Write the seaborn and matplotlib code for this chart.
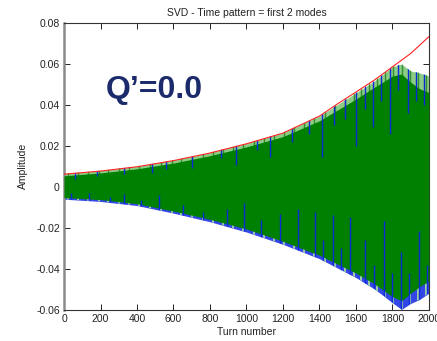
import numpy as np
import matplotlib
matplotlib.use("Agg")
import matplotlib.pyplot as plt
import seaborn as sns
import pandas as pd

# ---- data ----
env_turns = [0, 200, 400, 600, 800, 1000, 1200, 1400, 1500, 1600, 1700, 1800, 1900, 2000]
env_red = [0.0062, 0.0077, 0.0098, 0.0128, 0.0165, 0.0210, 0.0262, 0.0345, 0.0405,
           0.0462, 0.0520, 0.0585, 0.0650, 0.0732]

band_turns = [0, 200, 400, 600, 800, 1000, 1200, 1400, 1600, 1700, 1750, 1800, 1850, 1900, 1950, 2000]
green_upper = [0.0054, 0.0068, 0.0088, 0.0116, 0.0152, 0.0195, 0.0245, 0.0322, 0.0428,
               0.0485, 0.0512, 0.0540, 0.0550, 0.0510, 0.0478, 0.0460]
outer_upper = [0.0063, 0.0079, 0.0100, 0.0130, 0.0167, 0.0212, 0.0263, 0.0345, 0.0458,
               0.0515, 0.0550, 0.0585, 0.0598, 0.0565, 0.0555, 0.0540]
green_lower = [-0.0052, -0.0062, -0.0082, -0.0118, -0.0158, -0.0205, -0.0265, -0.0333,
               -0.0420, -0.0472, -0.0503, -0.0535, -0.0555, -0.0518, -0.0485, -0.0460]
outer_lower = [-0.0060, -0.0071, -0.0091, -0.0128, -0.0170, -0.0220, -0.0280, -0.0350,
               -0.0442, -0.0497, -0.0530, -0.0565, -0.0597, -0.0568, -0.0548, -0.0518]

# blue spikes reaching inward (turn, tip value)
spike_up_turns = [60, 180, 330, 480, 560, 700, 860, 941, 1060, 1130, 1250, 1340, 1414,
                  1480, 1540, 1602, 1650, 1693, 1740, 1789, 1830, 1884, 1930, 1975]
spike_up_tips = [0.0040, 0.0055, 0.0065, 0.0070, 0.0085, 0.0090, 0.0140, 0.0106, 0.0180,
                 0.0146, 0.0220, 0.0260, 0.0146, 0.0300, 0.0330, 0.0200, 0.0380, 0.0290,
                 0.0420, 0.0260, 0.0470, 0.0358, 0.0420, 0.0400]
spike_dn_turns = [40, 139, 250, 329, 420, 522, 650, 760, 895, 986, 1080, 1182, 1281, 1373,
                  1420, 1474, 1520, 1566, 1650, 1700, 1754, 1800, 1845, 1890, 1946, 1990]
spike_dn_tips = [-0.0030, -0.0030, -0.0050, -0.0036, -0.0065, -0.0040, -0.0090, -0.0120,
                 -0.0106, -0.0081, -0.0160, -0.0130, -0.0106, -0.0122, -0.0260, -0.0138,
                 -0.0300, -0.0146, -0.0260, -0.0380, -0.0167, -0.0420, -0.0316, -0.0420,
                 -0.0215, -0.0380]

# fringe stripes along the edges
stripe_turns = [20, 75, 130, 190, 240, 300, 355, 410, 470, 530, 590, 640, 700, 760, 815,
                870, 925, 980, 1040, 1095, 1150, 1205, 1260, 1315, 1370, 1430, 1485, 1540,
                1590, 1630, 1670, 1715, 1760, 1805, 1850, 1895, 1940, 1985]

x_ticks = [0, 200, 400, 600, 800, 1000, 1200, 1400, 1600, 1800, 2000]
y_ticks = [-0.06, -0.04, -0.02, 0, 0.02, 0.04, 0.06, 0.08]
y_ticklabels = ["-0.06", "-0.04", "-0.02", "0", "0.02", "0.04", "0.06", "0.08"]

# ---- style ----
sns.set_style("ticks")
plt.rcParams["font.family"] = ["Liberation Sans", "DejaVu Sans"]

fig = plt.figure(figsize=(4.37, 3.41), dpi=100)
ax = fig.add_axes([0.1465, 0.0909, 0.835, 0.8425])

GREEN = "#008000"
BLUE = "#0a2ad8"
LIGHTGREEN = "#a9d9a3"

# outer fringes
outer_up = ax.fill_between(band_turns, 0, outer_upper, color="#8ccc86", lw=0, zorder=1)
outer_dn = ax.fill_between(band_turns, outer_lower, 0, color="#3346e6", lw=0, zorder=1)

# stripes in the fringes, clipped to the outer envelope
vl = ax.vlines(stripe_turns, 0, 0.1, color="#2f8f2f", lw=1.0, zorder=2)
vl.set_clip_path(outer_up.get_paths()[0], transform=ax.transData)
vl2 = ax.vlines(stripe_turns, -0.1, 0, color=LIGHTGREEN, lw=1.3, zorder=2)
vl2.set_clip_path(outer_dn.get_paths()[0], transform=ax.transData)

# main green body
ax.fill_between(band_turns, green_lower, green_upper, color=GREEN, lw=0, zorder=3)

# blue spikes clipped to the outer envelope
vu = ax.vlines(spike_up_turns, spike_up_tips, 0.1, color=BLUE, lw=1.0, zorder=4)
vu.set_clip_path(outer_up.get_paths()[0], transform=ax.transData)
vd = ax.vlines(spike_dn_turns, -0.1, spike_dn_tips, color=BLUE, lw=1.0, zorder=4)
vd.set_clip_path(outer_dn.get_paths()[0], transform=ax.transData)

# red envelope
df = pd.DataFrame({"turn": env_turns, "amp": env_red})
sns.lineplot(data=df, x="turn", y="amp", color="#ff2020", lw=0.8, ax=ax, zorder=5)

ax.set_xlim(0, 2000)
ax.set_ylim(-0.06, 0.08)
ax.set_xticks(x_ticks)
ax.set_xticklabels([str(t) for t in x_ticks])
ax.set_yticks(y_ticks)
ax.set_yticklabels(y_ticklabels)
ax.tick_params(direction="in", length=4, width=0.7, labelsize=7.5, colors="#222222",
               top=True, right=True, pad=3)
for s in ["top", "right", "bottom"]:
    ax.spines[s].set_color("#333333")
    ax.spines[s].set_linewidth(0.8)
ax.spines["left"].set_color("#8a8a8a")
ax.spines["left"].set_linewidth(1.8)

ax.set_xlabel("Turn number", fontsize=7.5, color="#222222", labelpad=2)
ax.set_ylabel("Amplitude", fontsize=7.5, color="#222222", labelpad=6)
ax.set_title("SVD - Time pattern = first 2 modes", fontsize=7.5, color="#222222", pad=5)

ax.text(0.115, 0.737, "Q\u2019=0.0", transform=ax.transAxes, fontsize=23,
        fontweight="bold", color="#1b2a6b", ha="left", va="baseline")

fig.savefig("out.png", dpi=100)
